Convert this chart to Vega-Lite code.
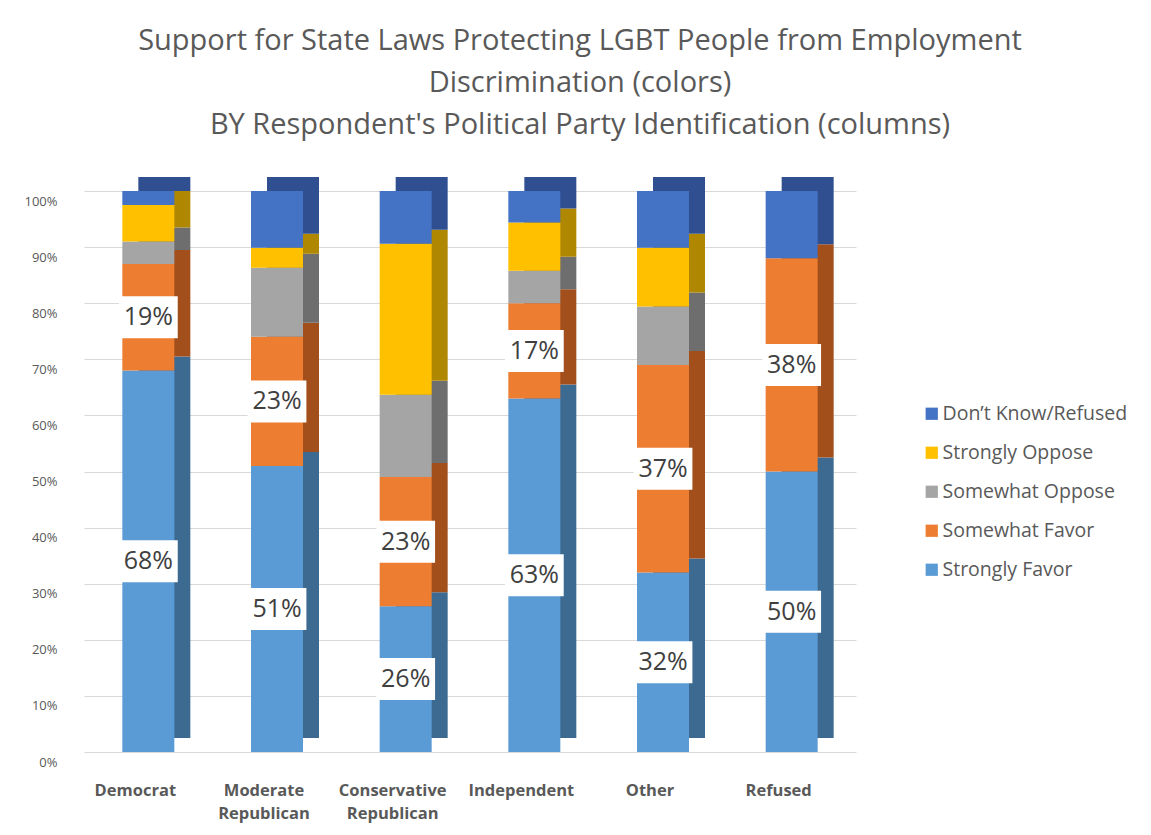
{
  "$schema": "https://vega.github.io/schema/vega-lite/v6.json",
  "autosize": {"type": "none"},
  "width": 772,
  "height": 561,
  "padding": {"left": 84, "top": 191, "right": 295, "bottom": 83},
  "background": "white",
  "config": {"view": {"stroke": null}, "font": "Open Sans"},
  "title": {
    "text": ["Support for State Laws Protecting LGBT People from Employment", "Discrimination (colors)", "BY Respondent's Political Party Identification (columns)"],
    "font": "Open Sans",
    "fontSize": 29,
    "fontWeight": "normal",
    "color": "#595959",
    "lineHeight": 42,
    "anchor": "middle",
    "dx": 110,
    "offset": 37
  },
  "data": {
    "values": [
      {"party": "Democrat", "response": "Strongly Favor", "rank": 1, "value": 68},
      {"party": "Democrat", "response": "Somewhat Favor", "rank": 2, "value": 19},
      {"party": "Democrat", "response": "Somewhat Oppose", "rank": 3, "value": 4},
      {"party": "Democrat", "response": "Strongly Oppose", "rank": 4, "value": 6.5},
      {"party": "Democrat", "response": "Don’t Know/Refused", "rank": 5, "value": 2.5},
      {"party": "Moderate Republican", "response": "Strongly Favor", "rank": 1, "value": 51},
      {"party": "Moderate Republican", "response": "Somewhat Favor", "rank": 2, "value": 23},
      {"party": "Moderate Republican", "response": "Somewhat Oppose", "rank": 3, "value": 12.3},
      {"party": "Moderate Republican", "response": "Strongly Oppose", "rank": 4, "value": 3.6},
      {"party": "Moderate Republican", "response": "Don’t Know/Refused", "rank": 5, "value": 10.1},
      {"party": "Conservative Republican", "response": "Strongly Favor", "rank": 1, "value": 26},
      {"party": "Conservative Republican", "response": "Somewhat Favor", "rank": 2, "value": 23},
      {"party": "Conservative Republican", "response": "Somewhat Oppose", "rank": 3, "value": 14.7},
      {"party": "Conservative Republican", "response": "Strongly Oppose", "rank": 4, "value": 26.9},
      {"party": "Conservative Republican", "response": "Don’t Know/Refused", "rank": 5, "value": 9.4},
      {"party": "Independent", "response": "Strongly Favor", "rank": 1, "value": 63},
      {"party": "Independent", "response": "Somewhat Favor", "rank": 2, "value": 17},
      {"party": "Independent", "response": "Somewhat Oppose", "rank": 3, "value": 5.8},
      {"party": "Independent", "response": "Strongly Oppose", "rank": 4, "value": 8.6},
      {"party": "Independent", "response": "Don’t Know/Refused", "rank": 5, "value": 5.6},
      {"party": "Other", "response": "Strongly Favor", "rank": 1, "value": 32},
      {"party": "Other", "response": "Somewhat Favor", "rank": 2, "value": 37},
      {"party": "Other", "response": "Somewhat Oppose", "rank": 3, "value": 10.4},
      {"party": "Other", "response": "Strongly Oppose", "rank": 4, "value": 10.5},
      {"party": "Other", "response": "Don’t Know/Refused", "rank": 5, "value": 10.1},
      {"party": "Refused", "response": "Strongly Favor", "rank": 1, "value": 50},
      {"party": "Refused", "response": "Somewhat Favor", "rank": 2, "value": 38},
      {"party": "Refused", "response": "Somewhat Oppose", "rank": 3, "value": 0},
      {"party": "Refused", "response": "Strongly Oppose", "rank": 4, "value": 0},
      {"party": "Refused", "response": "Don’t Know/Refused", "rank": 5, "value": 12}
    ]
  },
  "encoding": {
    "x": {
      "field": "party",
      "type": "nominal",
      "sort": ["Democrat", "Moderate Republican", "Conservative Republican", "Independent", "Other", "Refused"],
      "scale": {"paddingInner": 0, "paddingOuter": 0},
      "axis": {
        "title": null,
        "labelAngle": 0,
        "domain": false,
        "ticks": false,
        "labelExpr": "split(datum.label, ' ')",
        "labelFont": "Open Sans",
        "labelFontSize": 16.5,
        "labelFontWeight": "bold",
        "labelColor": "#595959",
        "labelPadding": 30,
        "labelBaseline": "top",
        "labelLineHeight": 23,
        "labelOffset": -13
      }
    }
  },
  "layer": [
    {
      "mark": {"type": "bar", "width": 52, "xOffset": 16, "yOffset": -14},
      "encoding": {
        "y": {
          "field": "value",
          "type": "quantitative",
          "stack": "zero",
          "scale": {"domain": [0, 100], "nice": false},
          "axis": {
            "title": null,
            "values": [0, 10, 20, 30, 40, 50, 60, 70, 80, 90, 100],
            "labelExpr": "datum.value + '%'",
            "domain": false,
            "ticks": false,
            "grid": true,
            "gridColor": "#d9d9d9",
            "labelFont": "Open Sans",
            "labelFontSize": 13,
            "labelColor": "#595959",
            "labelPadding": 27,
            "labelOffset": 10
          }
        },
        "order": {"field": "rank", "type": "quantitative", "sort": "ascending"},
        "color": {
          "field": "response",
          "type": "nominal",
          "scale": {
            "domain": ["Don’t Know/Refused", "Strongly Oppose", "Somewhat Oppose", "Somewhat Favor", "Strongly Favor"],
            "range": ["#2F4F91", "#B08700", "#6E6E6E", "#A34F1C", "#3C6A91"]
          },
          "legend": null
        }
      }
    },
    {
      "mark": {"type": "bar", "width": 52},
      "encoding": {
        "y": {"field": "value", "type": "quantitative", "stack": "zero"},
        "order": {"field": "rank", "type": "quantitative", "sort": "ascending"},
        "color": {
          "field": "response",
          "type": "nominal",
          "scale": {
            "domain": ["Don’t Know/Refused", "Strongly Oppose", "Somewhat Oppose", "Somewhat Favor", "Strongly Favor"],
            "range": ["#4472C4", "#FFC000", "#A5A5A5", "#ED7D31", "#5B9BD5"]
          },
          "legend": {
            "title": null,
            "orient": "none",
            "legendX": 838,
            "legendY": 213,
            "symbolType": "square",
            "symbolSize": 150,
            "symbolStrokeWidth": 0,
            "labelFont": "Open Sans",
            "labelFontSize": 19.5,
            "labelLimit": 400,
            "labelColor": "#595959",
            "rowPadding": 18,
            "labelOffset": 1
          }
        }
      }
    },
    {
      "transform": [
        {"stack": "value", "groupby": ["party"], "sort": [{"field": "rank", "order": "ascending"}], "as": ["v0", "v1"]},
        {"calculate": "(datum.v0 + datum.v1) / 2", "as": "mid"},
        {"filter": "datum.rank <= 2"}
      ],
      "mark": {"type": "point", "shape": "M-1.4,-1L1.4,-1L1.4,1L-1.4,1Z", "size": 1764, "filled": true, "fill": "white", "opacity": 1, "strokeWidth": 0},
      "encoding": {
        "y": {"field": "mid", "type": "quantitative"}
      }
    },
    {
      "transform": [
        {"stack": "value", "groupby": ["party"], "sort": [{"field": "rank", "order": "ascending"}], "as": ["v0", "v1"]},
        {"calculate": "(datum.v0 + datum.v1) / 2", "as": "mid"},
        {"calculate": "format(datum.value, '.0f') + '%'", "as": "label"},
        {"filter": "datum.rank <= 2"}
      ],
      "mark": {"type": "text", "font": "Open Sans", "fontSize": 25, "color": "#404040", "baseline": "middle", "align": "center"},
      "encoding": {
        "y": {"field": "mid", "type": "quantitative"},
        "text": {"field": "label", "type": "nominal"}
      }
    }
  ],
  "resolve": {"scale": {"color": "independent"}}
}
